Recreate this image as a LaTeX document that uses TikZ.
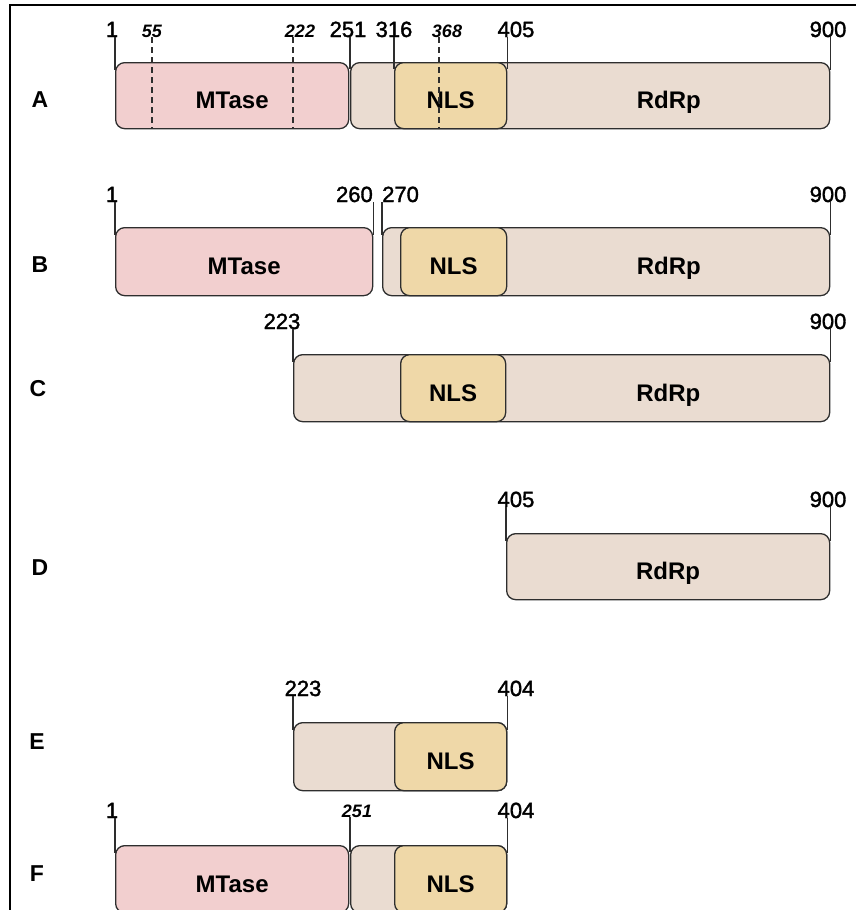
\documentclass[tikz,border=0pt]{standalone}
\usepackage{fontspec}
\setmainfont{Liberation Sans}
\newfontfamily\numfont[FakeBold=1.6]{Liberation Sans}
\usetikzlibrary{calc}
\definecolor{boxline}{HTML}{2E2E2E}
\definecolor{mtcol}{HTML}{F2CFCF}
\definecolor{lkcol}{HTML}{EADCD1}
\definecolor{nlscol}{HTML}{EFD8A8}
\begin{document}
\begin{tikzpicture}[x=1pt,y=-1pt,
  dom/.style={draw=boxline, line width=1.3pt, rounded corners=9pt, inner sep=0pt,
    anchor=north west, minimum height=#1},
  mtase/.style={dom=#1, fill=mtcol},
  linker/.style={dom=#1, fill=lkcol},
  nlsbox/.style={dom=#1, fill=nlscol},
  dname/.style={font=\bfseries\fontsize{24}{24}\selectfont, inner sep=0pt, anchor=base},
  poslab/.style={font=\numfont\fontsize{22}{22}\selectfont, inner sep=0pt, anchor=base},
  iposlab/.style={font=\bfseries\itshape\fontsize{18}{18}\selectfont, inner sep=0pt, anchor=base},
  rowlab/.style={font=\bfseries\fontsize{23}{23}\selectfont, inner sep=0pt},
  tickline/.style={draw=boxline, line width=1.2pt},
  cutline/.style={tickline, dash pattern=on 6pt off 4pt},
]
\useasboundingbox (0,0) rectangle (856,910);

% frame
\draw[line width=2pt] (856,5) -- (10,5) -- (10,910);

% ---------- A ----------
\node[rowlab] (rA) at (40,100) {A};
\node[mtase=66, minimum width=233] (aM) at (115,62) {};
\node[linker=66, minimum width=479] (aL) at (350,62) {};
\node[nlsbox=66, minimum width=112] (aN) at (394,62) {};
\node[dname] (aMt) at ([yshift=-13pt]aM.center) {MTase};
\node[dname] (aNt) at ([yshift=-13pt]aN.center) {NLS};
\node[dname] (aRt) at ([yshift=-13pt]$(aN.center -| aN.east)!0.5!(aL.east)$) {RdRp};
\node[poslab] (a1) at (112,37) {1};
\node[iposlab] (a55) at (152,37) {55};
\node[iposlab] (a222) at (300,37) {222};
\node[poslab] (a251) at (348,37) {251};
\node[poslab] (a316) at (394,37) {316};
\node[iposlab] (a368) at (447,37) {368};
\node[poslab] (a405) at (516,37) {405};
\node[poslab] (a900) at (828,37) {900};
\coordinate (x55) at (152,128);
\coordinate (x222) at (293,128);
\coordinate (x368) at (439,128);
\draw[cutline] (x55 |- a55.south) -- (x55);
\draw[cutline] (x222 |- a222.south) -- (x222);
\draw[cutline] (x368 |- a368.south) -- (x368);
\draw[tickline] (aM.north west |- a1.south) -- ([yshift=-8pt]aM.north west);
\draw[tickline] (aL.north west |- a251.south) -- ([yshift=-7pt]aL.north west);
\draw[tickline] (aN.north west |- a316.south) -- ([yshift=-7pt]aN.north west);
\draw[tickline] (aN.north east |- a405.south) -- ([yshift=-7pt]aN.north east);
\draw[tickline] (aL.north east |- a900.south) -- ([yshift=-8pt]aL.north east);

% ---------- B ----------
\node[rowlab] (rB) at (40,265) {B};
\node[mtase=68, minimum width=257] (bM) at (115,227) {};
\node[linker=68, minimum width=447] (bL) at (382,227) {};
\node[nlsbox=68, minimum width=106] (bN) at (400,227) {};
\node[dname] (bMt) at ([yshift=-13pt]bM.center) {MTase};
\node[dname] (bNt) at ([yshift=-13pt]bN.center) {NLS};
\node[dname] (bRt) at ([yshift=-13pt]$(bN.center -| bN.east)!0.5!(bL.east)$) {RdRp};
\node[poslab] (b1) at (112,202) {1};
\node[poslab, anchor=base east] (b260) at (373,202) {260};
\node[poslab, anchor=base west] (b270) at (382,202) {270};
\node[poslab] (b900) at (828,202) {900};
\draw[tickline] (bM.north west |- b1.south) -- ([yshift=-8pt]bM.north west);
\draw[tickline] (bM.north east |- b260.south) -- ([yshift=-8pt]bM.north east);
\draw[tickline] (bL.north west |- b270.south) -- ([yshift=-8pt]bL.north west);
\draw[tickline] (bL.north east |- b900.south) -- ([yshift=-8pt]bL.north east);

% ---------- C ----------
\node[rowlab] (rC) at (38,389) {C};
\node[linker=67, minimum width=536] (cL) at (293,354) {};
\node[nlsbox=67, minimum width=105] (cN) at (400,354) {};
\node[dname] (cNt) at ([yshift=-13pt]cN.center) {NLS};
\node[dname] (cRt) at ([yshift=-13pt]$(cN.center -| cN.east)!0.5!(cL.east)$) {RdRp};
\node[poslab] (c223) at (282,329) {223};
\node[poslab] (c900) at (828,329) {900};
\draw[tickline] (cL.north west |- c223.south) -- ([yshift=-8pt]cL.north west);
\draw[tickline] (cL.north east |- c900.south) -- ([yshift=-8pt]cL.north east);

% ---------- D ----------
\node[rowlab] (rD) at (40,568) {D};
\node[linker=66, minimum width=323] (dL) at (506,533) {};
\node[dname] (dRt) at ([yshift=-13pt]dL.center) {RdRp};
\node[poslab] (d405) at (516,507) {405};
\node[poslab] (d900) at (828,507) {900};
\draw[tickline] (dL.north west |- d405.south) -- ([yshift=-8pt]dL.north west);
\draw[tickline] (dL.north east |- d900.south) -- ([yshift=-8pt]dL.north east);

% ---------- E ----------
\node[rowlab] (rE) at (37,742) {E};
\node[linker=68, minimum width=213] (eL) at (293,722) {};
\node[nlsbox=68, minimum width=112] (eN) at (394,722) {};
\node[dname] (eNt) at ([yshift=-13pt]eN.center) {NLS};
\node[poslab] (e223) at (303,696) {223};
\node[poslab] (e404) at (516,696) {404};
\draw[tickline] (eL.north west |- e223.south) -- ([yshift=-8pt]eL.north west);
\draw[tickline] (eL.north east |- e404.south) -- ([yshift=-8pt]eL.north east);

% ---------- F ----------
\node[rowlab] (rF) at (37,874) {F};
\node[mtase=67, minimum width=233] (fM) at (115,845) {};
\node[linker=67, minimum width=156] (fL) at (350,845) {};
\node[nlsbox=67, minimum width=112] (fN) at (394,845) {};
\node[dname] (fMt) at ([yshift=-13pt]fM.center) {MTase};
\node[dname] (fNt) at ([yshift=-13pt]fN.center) {NLS};
\node[poslab] (f1) at (112,818) {1};
\node[iposlab] (f251) at (357,817) {251};
\node[poslab] (f404) at (516,818) {404};
\draw[tickline] (fM.north west |- f1.south) -- ([yshift=-8pt]fM.north west);
\draw[tickline] (fL.north west |- f251.south) -- ([yshift=-7pt]fL.north west);
\draw[tickline] (fL.north east |- f404.south) -- ([yshift=-8pt]fL.north east);
\end{tikzpicture}
\end{document}
